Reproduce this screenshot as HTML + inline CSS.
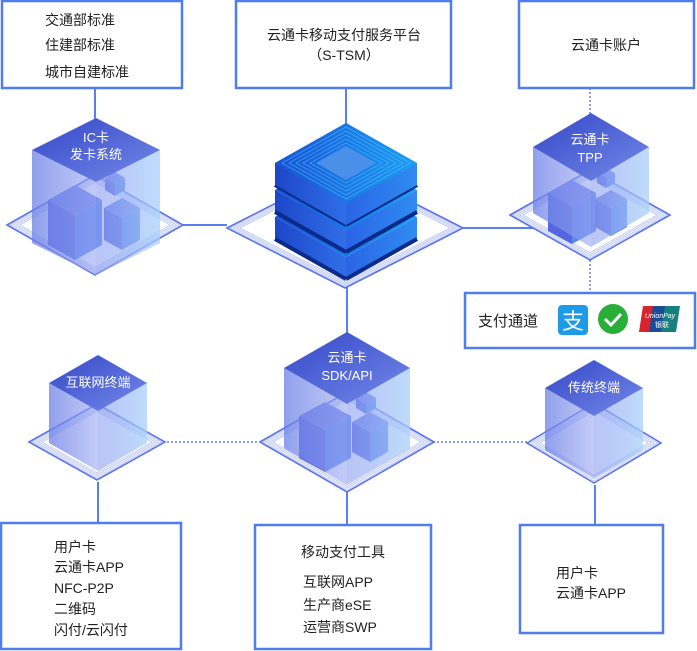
<!DOCTYPE html>
<html><head><meta charset="utf-8">
<style>
html,body{margin:0;padding:0;background:#fff;width:697px;height:651px;overflow:hidden}
svg{display:block}
text{font-family:"Liberation Sans","Noto Sans CJK SC",sans-serif;font-size:14px;fill:#222}
.w{fill:#fff;font-size:13px}
</style></head><body>
<svg id="s" width="697" height="651" viewBox="0 0 697 651" xmlns="http://www.w3.org/2000/svg">
<defs>
<linearGradient id="top" x1="0" y1="0" x2="1" y2="1"><stop offset="0" stop-color="#3447c8"/><stop offset="1" stop-color="#7489e8"/></linearGradient>
<linearGradient id="sideL" x1="0" y1="0" x2="1" y2="0"><stop offset="0" stop-color="#6b7fe6" stop-opacity=".75"/><stop offset="1" stop-color="#9aa8f2" stop-opacity=".6"/></linearGradient>
<linearGradient id="sideR" x1="0" y1="0" x2="1" y2="0"><stop offset="0" stop-color="#8c9df0" stop-opacity=".6"/><stop offset="1" stop-color="#a9d0fb" stop-opacity=".75"/></linearGradient>
<linearGradient id="sTop" x1="0" y1="0" x2="1" y2="0"><stop offset="0" stop-color="#1553d6"/><stop offset="1" stop-color="#1aa0f5"/></linearGradient>
<linearGradient id="sL" x1="0" y1="0" x2="1" y2="0"><stop offset="0" stop-color="#1d46c8"/><stop offset="1" stop-color="#2f6ee8"/></linearGradient>
<linearGradient id="sR" x1="0" y1="0" x2="1" y2="0"><stop offset="0" stop-color="#2a64e6"/><stop offset="1" stop-color="#2f8cf0"/></linearGradient>
</defs>
<g fill="none" stroke="#5a7ff2" stroke-width="2">
<line x1="95" y1="88" x2="95" y2="120"/>
<line x1="346" y1="88" x2="346" y2="125"/>
<line x1="182" y1="225" x2="227" y2="225"/>
<line x1="463" y1="228" x2="535" y2="228"/>
<line x1="347" y1="285" x2="347" y2="335"/>
<line x1="98" y1="482" x2="98" y2="523"/>
<line x1="347" y1="492" x2="347" y2="525"/>
<line x1="595" y1="485" x2="595" y2="525"/>
</g>
<g fill="none" stroke="#8d9ef2" stroke-width="2" stroke-dasharray="2 2">
<line x1="590" y1="88" x2="590" y2="115"/>
<line x1="590" y1="260" x2="590" y2="293"/>
<line x1="167" y1="442" x2="258" y2="442"/>
<line x1="433" y1="442" x2="527" y2="442"/>
</g>
<g id="g"></g>
<g fill="#fff" stroke="#4f7cf0" stroke-width="2.5">
<rect x="2" y="1" width="180" height="87"/>
<rect x="236" y="1" width="215" height="87"/>
<rect x="519" y="1" width="175" height="87"/>
<rect x="465" y="293" width="230" height="55"/>
<rect x="1" y="523" width="180" height="126"/>
<rect x="255" y="525" width="176" height="124"/>
<rect x="520" y="525" width="143" height="108"/>
</g>
<text x="45" y="25">交通部标准</text>
<text x="45" y="50">住建部标准</text>
<text x="45" y="77">城市自建标准</text>
<text x="344" y="40" text-anchor="middle">云通卡移动支付服务平台</text>
<text x="344" y="60" text-anchor="middle">（S-TSM）</text>
<text x="606" y="50" text-anchor="middle">云通卡账户</text>
<text x="478" y="326" style="font-size:15px">支付通道</text>
<text x="54" y="552">用户卡</text>
<text x="54" y="572">云通卡APP</text>
<text x="54" y="593">NFC-P2P</text>
<text x="54" y="614">二维码</text>
<text x="54" y="635">闪付/云闪付</text>
<text x="343" y="557" text-anchor="middle">移动支付工具</text>
<text x="303" y="587">互联网APP</text>
<text x="303" y="610">生产商eSE</text>
<text x="303" y="632">运营商SWP</text>
<text x="556" y="578">用户卡</text>
<text x="556" y="598">云通卡APP</text>
<rect x="558" y="305" width="30" height="30" rx="4" fill="#1d9be8"/>
<text x="573" y="329" text-anchor="middle" style="fill:#fff;font-size:22px">支</text>
<circle cx="613" cy="319" r="15" fill="#2aae3a"/>
<path d="M605 319 l6 6 l10 -11" stroke="#fff" stroke-width="3" fill="none"/>
<path d="M643 306 h12 l-4 26 h-12 z" fill="#d8242c"/>
<path d="M653 306 h14 l-4 26 h-14 z" fill="#1b4d97"/>
<path d="M665 306 h15 l-4 26 h-15 z" fill="#17807d"/>
<text x="660" y="318" text-anchor="middle" style="fill:#fff;font-size:7px;font-style:italic">UnionPay</text>
<text x="662" y="327" text-anchor="middle" style="fill:#fff;font-size:7px">银联</text>
<g id="lbl">
<text class="w" x="96" y="142" text-anchor="middle">IC卡</text>
<text class="w" x="96" y="159" text-anchor="middle">发卡系统</text>
<text class="w" x="590" y="144" text-anchor="middle">云通卡</text>
<text class="w" x="590" y="162" text-anchor="middle">TPP</text>
<text class="w" x="347" y="362" text-anchor="middle">云通卡</text>
<text class="w" x="347" y="380" text-anchor="middle">SDK/API</text>
<text class="w" x="98" y="387" text-anchor="middle">互联网终端</text>
<text class="w" x="594" y="392" text-anchor="middle">传统终端</text>
</g>
</svg>
<script>
var g=document.getElementById('g'),NS='http://www.w3.org/2000/svg';
function el(t,a){var e=document.createElementNS(NS,t);for(var k in a)e.setAttribute(k,a[k]);g.appendChild(e);return e;}
function rh(cx,cy,w,h){return (cx-w)+','+cy+' '+cx+','+(cy-h)+' '+(cx+w)+','+cy+' '+cx+','+(cy+h);}
function plat(cx,cy,w,h){
  el('polygon',{points:rh(cx,cy,w,h),fill:'#fff',stroke:'#5a72f0','stroke-width':1.6});
  for(var i=1;i<=4;i++){var s=i*3.2;el('polygon',{points:rh(cx,cy,w-s,h-s*h/w),fill:'none',stroke:'#b4c0f6','stroke-width':0.8});}
}
function cube(cx,ty,w,h,d,f){
  var t=f||{};
  el('polygon',{points:(cx-w)+','+(ty+h)+' '+cx+','+(ty+2*h)+' '+cx+','+(ty+2*h+d)+' '+(cx-w)+','+(ty+h+d),fill:t.l||'url(#sideL)'});
  el('polygon',{points:cx+','+(ty+2*h)+' '+(cx+w)+','+(ty+h)+' '+(cx+w)+','+(ty+h+d)+' '+cx+','+(ty+2*h+d),fill:t.r||'url(#sideR)'});
  el('polygon',{points:rh(cx,ty+h,w,h),fill:t.t||'url(#top)'});
}
function small(cx,ty,w,h,d){cube(cx,ty,w,h,d,{l:'#5466e0',r:'#5b86ee',t:'#6f82ea'});}
plat(95,225,88,50);
plat(345,228,118,60);
plat(590,215,80,45);
plat(97,442,68,38);
plat(347,442,87,50);
plat(594,443,67,40);
small(75,185,27,15,45);small(122,198,18,10,32);small(115,172,10,6,12);
cube(96,118,64,32,93);
small(572,180,24,13,38);small(611,190,16,9,28);small(606,168,9,5,10);
cube(591,113,58,34,66);
small(325,402,26,14,42);small(370,412,18,10,30);small(366,392,10,6,10);
cube(347,332,63,36,80);
cube(98,355,49,28,60);
cube(594,360,49,28,62);
[0,1,2].forEach(function(i){
  var ty=123+(2-i)*27;
  cube(346,ty,71,40,22,{l:'url(#sL)',r:'url(#sR)',t:'url(#sTop)'});
  el('line',{x1:275,y1:ty+40+22,x2:346,y2:ty+80+22,stroke:'#0c2a8a','stroke-width':4});
  el('line',{x1:346,y1:ty+80+22,x2:417,y2:ty+40+22,stroke:'#0c2a8a','stroke-width':4});
});
cube(346,123,71,40,22,{l:'url(#sL)',r:'url(#sR)',t:'url(#sTop)'});
for(var i=1;i<=5;i++){el('polygon',{points:rh(346,163,71-i*7,40-i*4),fill:'none',stroke:'#6fc0ff','stroke-width':0.7,'stroke-opacity':0.7});}
el('polygon',{points:rh(346,163,30,17),fill:'#4a90e8'});
</script>
</body></html>
